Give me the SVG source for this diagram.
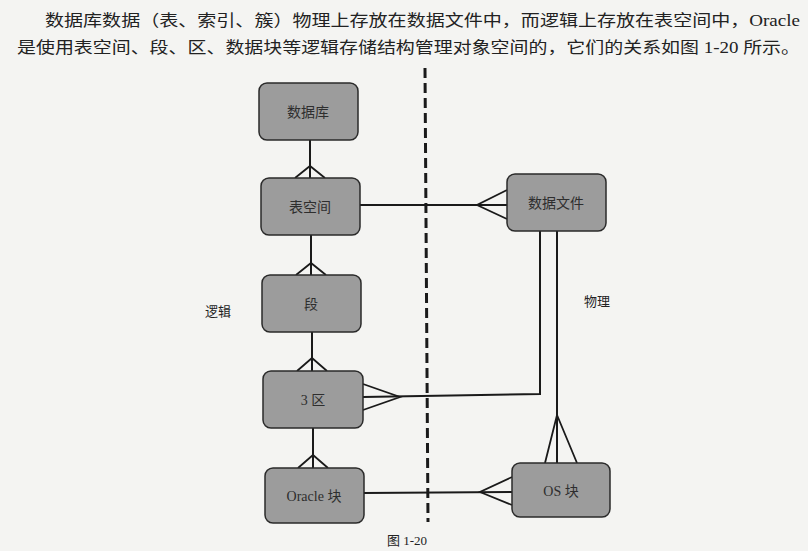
<svg xmlns="http://www.w3.org/2000/svg" width="808" height="551" viewBox="0 0 808 551">
<style>
.bg{fill:#f4f4f2}
.node rect{fill:#9c9c9c;stroke:#2a2a2a;stroke-width:1.5}
.node text{font-family:"Liberation Serif","Noto Sans CJK SC",serif;font-size:14px;fill:#2e2e2e;text-anchor:middle;dominant-baseline:central}
.conn{fill:none;stroke:#1a1a1a;stroke-width:2}
.crow{fill:none;stroke:#1a1a1a;stroke-width:1.8}
.dash{stroke:#1a1a1a;stroke-width:3;stroke-dasharray:10 5}
.para{font-family:"Liberation Serif","Noto Sans CJK SC",serif;font-size:16px;fill:#222}
.lbl{font-family:"Liberation Serif","Noto Sans CJK SC",serif;font-size:13px;fill:#222;text-anchor:middle}
</style>
<rect class="bg" x="0" y="0" width="808" height="551"/>
<text class="para" x="45" y="26" textLength="755" lengthAdjust="spacingAndGlyphs">数据库数据（表、索引、簇）物理上存放在数据文件中，而逻辑上存放在表空间中，Oracle</text>
<text class="para" x="17" y="53" textLength="783" lengthAdjust="spacingAndGlyphs">是使用表空间、段、区、数据块等逻辑存储结构管理对象空间的，它们的关系如图 1-20 所示。</text>
<line class="dash" x1="425" y1="68" x2="428" y2="522"/>
<g id="connectors">
<line class="conn" x1="310" y1="140" x2="310" y2="178"/>
<path class="crow" d="M295 178 L310 166 L325 178"/>
<line class="conn" x1="311" y1="235" x2="311" y2="275"/>
<path class="crow" d="M296 275 L311 263 L326 275"/>
<line class="conn" x1="312" y1="332" x2="312" y2="371"/>
<path class="crow" d="M297 371 L312 358 L327 371"/>
<line class="conn" x1="313" y1="428" x2="313" y2="468"/>
<path class="crow" d="M298 468 L313 455 L328 468"/>
<line class="conn" x1="360" y1="205" x2="507" y2="205"/>
<path class="crow" d="M507 190 L477 205 L507 219"/>
<polyline class="conn" points="540,231 540,394 363,397"/>
<path class="crow" d="M363 384 L400 397 L363 410"/>
<line class="conn" x1="557" y1="231" x2="557" y2="463"/>
<path class="crow" d="M545 463 L557 415 L577 463"/>
<line class="conn" x1="364" y1="493" x2="512" y2="492"/>
<path class="crow" d="M512 477 L480 492 L512 505"/>
</g>
<g id="n-db" class="node"><rect x="259" y="83" width="99" height="57" rx="8"/><text x="308" y="112">数据库</text></g>
<g id="n-ts" class="node"><rect x="261" y="178" width="99" height="57" rx="8"/><text x="310" y="207">表空间</text></g>
<g id="n-seg" class="node"><rect x="262" y="275" width="99" height="57" rx="8"/><text x="311" y="304">段</text></g>
<g id="n-ext" class="node"><rect x="263" y="371" width="100" height="57" rx="8"/><text x="313" y="400">3 区</text></g>
<g id="n-ob" class="node"><rect x="265" y="468" width="99" height="55" rx="8"/><text x="314" y="496">Oracle 块</text></g>
<g id="n-df" class="node"><rect x="507" y="174" width="99" height="57" rx="8"/><text x="556" y="203">数据文件</text></g>
<g id="n-os" class="node"><rect x="512" y="463" width="98" height="54" rx="8"/><text x="561" y="491">OS 块</text></g>
<text class="lbl" x="218" y="316">逻辑</text>
<text class="lbl" x="597" y="306">物理</text>
<text class="lbl" x="407" y="545">图 1-20</text>
</svg>
